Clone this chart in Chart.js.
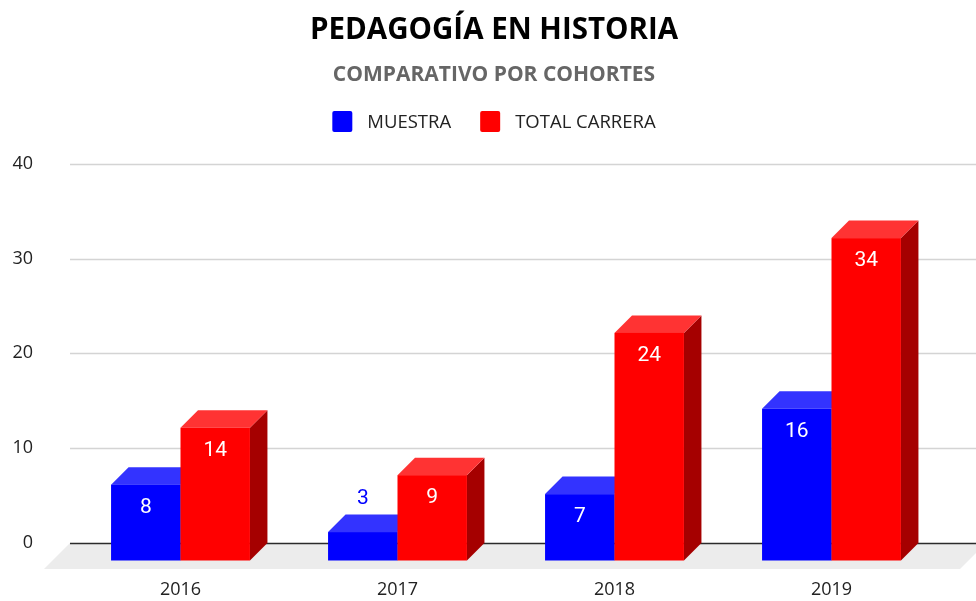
<!DOCTYPE html>
<html><head><meta charset="utf-8">
<script src="https://cdn.jsdelivr.net/npm/chart.js@4.4.1/dist/chart.umd.min.js"></script>
<style>html,body{margin:0;padding:0;background:#fff;}</style>
</head><body>
<canvas id="c" width="976" height="601"></canvas>
<script>
const titleText = 'PEDAGOGÍA EN HISTORIA';
const subtitleText = 'COMPARATIVO POR COHORTES';
const categories = ['2016', '2017', '2018', '2019'];
const seriesNames = ['MUESTRA', 'TOTAL CARRERA'];
const muestra = [8, 3, 7, 16];
const totalCarrera = [14, 9, 24, 34];
const yTickValues = [0, 10, 20, 30, 40];

const DEPTH = 17.5;
const faces = [
  { front: '#0000FF', top: '#3333FF', side: '#0000A6' },
  { front: '#FF0000', top: '#FF3333', side: '#A50000' }
];
const FONT = "'Open Sans', sans-serif";

const bars3d = {
  id: 'bars3d',
  beforeDatasetsDraw(chart) {
    const { ctx } = chart;
    const y = chart.scales.y;
    const y0 = y.getPixelForValue(0);
    const left = chart.chartArea.left - 2;
    const W = chart.width;
    ctx.save();
    ctx.fillStyle = '#ECECEC';
    ctx.beginPath();
    ctx.moveTo(left, y0);
    ctx.lineTo(W + 10, y0);
    ctx.lineTo(W - 16, y0 + 26);
    ctx.lineTo(left - 26, y0 + 26);
    ctx.closePath();
    ctx.fill();
    y.ticks.forEach(t => {
      const py = Math.round(y.getPixelForValue(t.value)) + 0.5;
      ctx.strokeStyle = t.value === 0 ? '#2b2b2b' : '#D4D4D4';
      ctx.lineWidth = 1.5;
      ctx.beginPath();
      ctx.moveTo(left, py);
      ctx.lineTo(W, py);
      ctx.stroke();
    });
    ctx.restore();
  },
  afterDatasetsDraw(chart) {
    const ctx = chart.ctx;
    const metas = chart.data.datasets.map((d, i) => chart.getDatasetMeta(i));
    const n = chart.data.labels.length;
    ctx.save();
    const labels = [];
    for (let j = 0; j < n; j++) {
      metas.forEach((meta, di) => {
        const el = meta.data[j];
        const { x, y, base, width } = el.getProps(['x', 'y', 'base', 'width'], true);
        const c = faces[di];
        const xl = x - width / 2, xr = x + width / 2;
        const ft = y + DEPTH, fb = base + DEPTH;
        ctx.fillStyle = c.side;
        ctx.beginPath();
        ctx.moveTo(xr, ft); ctx.lineTo(xr + DEPTH, y); ctx.lineTo(xr + DEPTH, base); ctx.lineTo(xr, fb);
        ctx.closePath(); ctx.fill();
        ctx.fillStyle = c.top;
        ctx.beginPath();
        ctx.moveTo(xl, ft); ctx.lineTo(xl + DEPTH, y); ctx.lineTo(xr + DEPTH, y); ctx.lineTo(xr, ft);
        ctx.closePath(); ctx.fill();
        ctx.fillStyle = c.front;
        ctx.fillRect(xl, ft, width, fb - ft);
        const v = chart.data.datasets[di].data[j];
        if (fb - ft > 40) labels.push({ x, y: ft + 23, text: String(v), color: '#FFFFFF' });
        else labels.push({ x, y: y - 16, text: String(v), color: c.front });
      });
    }
    ctx.font = "21px Roboto, sans-serif";
    ctx.textAlign = 'center';
    ctx.textBaseline = 'middle';
    labels.forEach(l => { ctx.fillStyle = l.color; ctx.fillText(l.text, l.x, l.y); });
    ctx.restore();
  },
  afterDraw(chart) {
    const ctx = chart.ctx;
    ctx.save();
    ctx.font = '18.5px ' + FONT;
    ctx.textBaseline = 'middle';
    ctx.textAlign = 'left';
    const box = 20, boxH = 21, gap = 15, itemGap = 29;
    const widths = seriesNames.map(s => ctx.measureText(s).width);
    const total = widths.reduce((a, w) => a + box + gap + w, 0) + itemGap * (seriesNames.length - 1);
    let x = 494 - total / 2;
    const cy = 121.5;
    seriesNames.forEach((s, i) => {
      ctx.fillStyle = faces[i].front;
      ctx.beginPath();
      if (ctx.roundRect) ctx.roundRect(x, cy - boxH / 2, box, boxH, 2); else ctx.rect(x, cy - boxH / 2, box, boxH);
      ctx.fill();
      ctx.fillStyle = '#222222';
      ctx.fillText(s, x + box + gap, cy + 1);
      x += box + gap + widths[i] + itemGap;
    });
    ctx.restore();
  }
};

new Chart(document.getElementById('c'), {
  type: 'bar',
  data: {
    labels: categories,
    datasets: [
      { label: seriesNames[0], data: muestra, backgroundColor: 'rgba(0,0,0,0)', borderWidth: 0 },
      { label: seriesNames[1], data: totalCarrera, backgroundColor: 'rgba(0,0,0,0)', borderWidth: 0 }
    ]
  },
  options: {
    responsive: false,
    animation: false,
    events: [],
    layout: { padding: { left: 12, right: 0, top: 0, bottom: 0 } },
    datasets: { bar: { categoryPercentage: 0.64, barPercentage: 1.0 } },
    plugins: {
      legend: { display: false },
      tooltip: { enabled: false },
      title: {
        display: true, text: titleText, color: '#000000',
        font: { family: FONT, size: 29.5, weight: 'bold', lineHeight: 1.2 },
        padding: { top: 13, bottom: 0 }
      },
      subtitle: {
        display: true, text: subtitleText, color: '#666666',
        font: { family: FONT, size: 21, weight: 'bold', lineHeight: 1.2 },
        padding: { top: 13.7, bottom: 76.4 }
      }
    },
    scales: {
      x: {
        grid: { display: false, drawTicks: false },
        border: { display: false },
        ticks: { color: '#222222', font: { family: FONT, size: 18 }, padding: 36.2 },
        afterFit: s => { s.height = 58; }
      },
      y: {
        min: 0, max: 40,
        grid: { display: false, drawTicks: false },
        border: { display: false },
        ticks: { stepSize: 10, color: '#222222', font: { family: FONT, size: 18 }, padding: 39,
          callback: v => (yTickValues.includes(v) ? String(v) : '') },
        afterFit: s => { s.width = 60; }
      },
      yR: {
        type: 'linear', position: 'right', display: true,
        grid: { display: false, drawTicks: false },
        border: { display: false },
        ticks: { display: false },
        afterFit: s => { s.width = 36; }
      }
    }
  },
  plugins: [bars3d]
});
</script>
</body></html>
